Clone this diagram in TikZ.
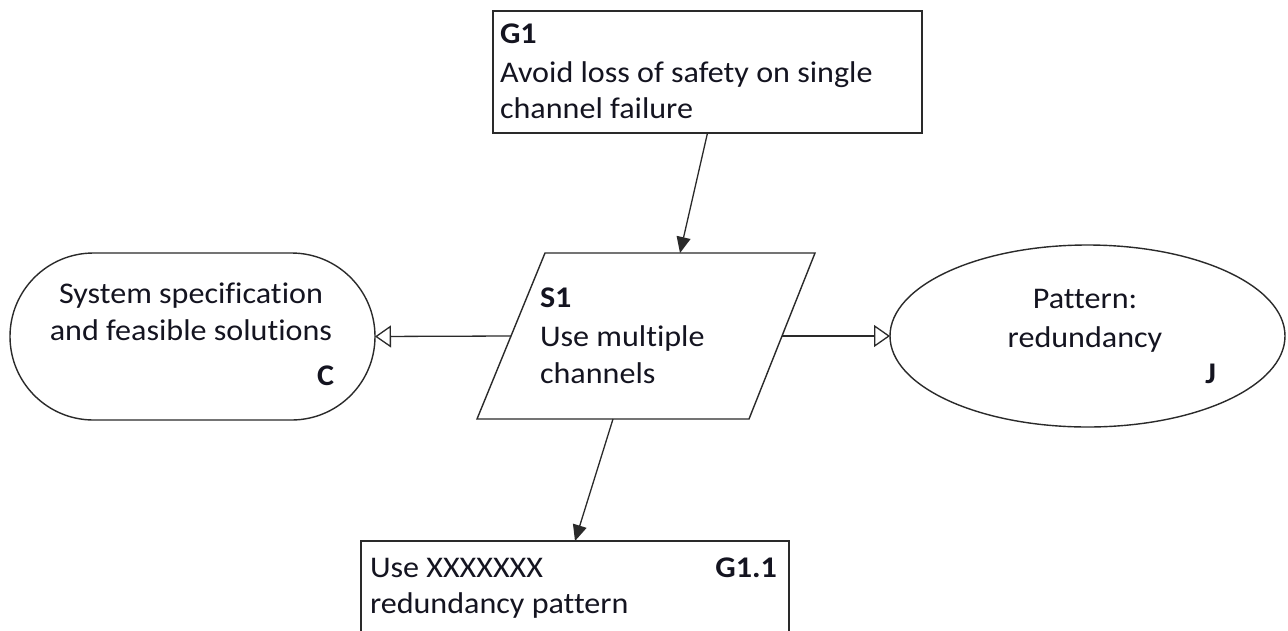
\documentclass[tikz,border=0pt]{standalone}
\usepackage{fontspec}
\setmainfont{Carlito}[FakeStretch=1.07, Ligatures=NoCommon]
\usetikzlibrary{shapes.geometric,shapes.misc,arrows.meta}
\definecolor{ink}{HTML}{141420}
\definecolor{edge}{HTML}{2A2A2A}
\tikzset{
  every node/.style={inner sep=0pt, outer sep=0pt},
  shapebox/.style={draw=edge, line width=1.4pt},
  txt/.style={text=ink, font=\fontsize{30}{36}\selectfont, anchor=base west},
  txtc/.style={text=ink, font=\fontsize{30}{36}\selectfont, anchor=base},
  txtr/.style={text=ink, font=\fontsize{30}{36}\selectfont\bfseries, anchor=base east},
  solved/.style={draw=edge, line width=1.3pt, -{Triangle[length=16pt,width=14pt]}},
  context/.style={draw=edge, line width=1.3pt, -{Triangle[open,length=16pt,width=22pt,line width=1.3pt]}}
}
\begin{document}
\begin{tikzpicture}[x=1pt,y=-1pt]
\clip (0,0) rectangle (1288,630);
\fill[white] (0,0) rectangle (1288,630);
% Goal G1
\node[shapebox, rectangle, minimum width=429pt, minimum height=122pt] (G1) at (707.5,72) {};
\node[txt, font=\fontsize{30}{36}\selectfont\bfseries] (G1id) at (500,43) {G1};
\node[txt] (G1l1) at (500,82) {Avoid loss of safety on single};
\node[txt] (G1l2) at (500,118) {channel failure};
% Strategy S1 (parallelogram)
\draw[shapebox, line join=miter] (545,253) -- (815,253) -- (749,419) -- (477,419) -- cycle;
\coordinate (S1n) at (680,253);
\coordinate (S1w) at (511,336);
\coordinate (S1e) at (782,336);
\coordinate (S1s) at (613,419);
\node[txt, font=\fontsize{30}{36}\selectfont\bfseries] (S1id) at (540,307) {S1};
\node[txt] (S1l1) at (540,346) {Use multiple};
\node[txt] (S1l2) at (540,383) {channels};
% Context C
\node[shapebox, rounded rectangle, minimum width=365pt, minimum height=167pt] (C) at (192.5,336.5) {};
\node[txtc] (Cl1) at (191,303) {System specification};
\node[txtc] (Cl2) at (191,340) {and feasible solutions};
\node[txtr] (Cid) at (334,385) {C};
% Justification J
\node[shapebox, ellipse, minimum width=395pt, minimum height=182pt] (J) at (1087.5,336) {};
\node[txtc] (Jl1) at (1085,308) {Pattern:};
\node[txtc] (Jl2) at (1085,347) {redundancy};
\node[txtr] (Jid) at (1216,383) {J};
% Goal G1.1
\node[shapebox, rectangle, minimum width=428pt, minimum height=160pt] (G11) at (575,621) {};
\node[txt] (G11l1) at (370,577) {Use XXXXXXX};
\node[txt] (G11l2) at (370,613) {redundancy pattern};
\node[txtr] (G11id) at (777,577) {G1.1};
% Connectors
\draw[solved] (G1.south) -- (S1n);
\draw[context] (S1w) -- (C.east);
\draw[context] (S1e) -- (J.west);
\draw[solved] (S1s) -- (G11.north);
\end{tikzpicture}
\end{document}
